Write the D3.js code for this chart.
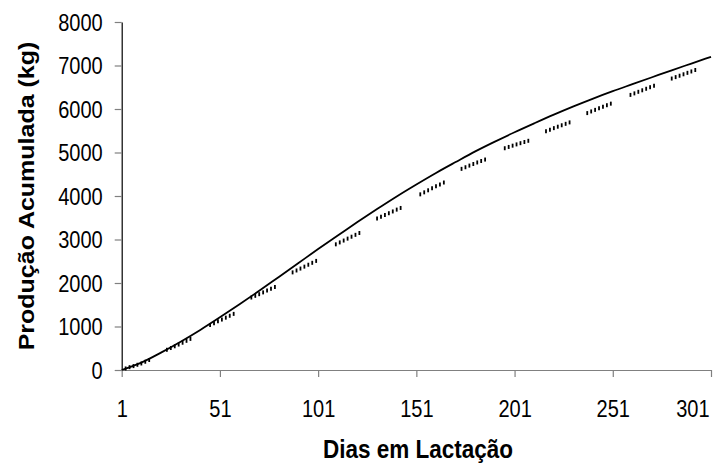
<!DOCTYPE html>
<html><head><meta charset="utf-8">
<script src="https://cdn.jsdelivr.net/npm/d3@7"></script>
<style>
html,body{margin:0;padding:0;background:#fff;}
svg{display:block;}
text{font-family:"Liberation Sans",Arial,sans-serif;fill:#000;}
</style></head><body>
<svg id="chart" width="722" height="464"></svg>
<script>
// Fitted cumulative production (solid line)
const fitDays = [1,11,21,31,41,51,61,71,81,91,101,111,121,131,141,151,161,171,181,191,201,211,221,231,241,251,261,271,281,291,301];
const fitKg   = [0,170,400,650,920,1210,1510,1820,2140,2460,2780,3090,3400,3700,3990,4265,4530,4780,5025,5250,5465,5670,5870,6060,6240,6410,6570,6730,6890,7045,7200];

// Observed cumulative production (dash markers)
const obsDays = [
  3,5,7,9,11,13,15,
  24,26,28,30,32,34,36,
  46,48,50,52,54,56,58,
  67,69,71,73,75,77,79,
  88,90,92,94,96,98,100,
  110,112,114,116,118,120,122,
  131,133,135,137,139,141,143,
  153,155,157,159,161,163,165,
  174,176,178,180,182,184,186,
  196,198,200,202,204,206,208,
  217,219,221,223,225,227,229,
  238,240,242,244,246,248,250,
  260,262,264,266,268,270,272,
  281,283,285,287,289,291,293];
const obsKg = [
  35,65,90,120,150,190,230,
  465,505,545,585,627,671,715,
  1035,1076,1118,1160,1203,1247,1290,
  1666,1705,1743,1784,1825,1865,1906,
  2244,2288,2332,2376,2420,2464,2508,
  2889,2933,2976,3020,3064,3107,3150,
  3480,3521,3563,3604,3645,3687,3725,
  4038,4084,4131,4177,4223,4267,4310,
  4624,4661,4699,4736,4771,4805,4838,
  5098,5128,5157,5186,5214,5241,5269,
  5490,5525,5560,5593,5626,5659,5692,
  5906,5944,5980,6016,6052,6087,6123,
  6324,6359,6395,6430,6465,6501,6536,
  6700,6733,6765,6798,6831,6863,6896];

const xTickValues = [1,51,101,151,201,251,301];
const yTickValues = [0,1000,2000,3000,4000,5000,6000,7000,8000];
const xTitle = "Dias em Lactação";
const yTitle = "Produção Acumulada (kg)";

const SQ = 0.87;      // horizontal squeeze of the reference lettering
const svg = d3.select("#chart");
const x = d3.scaleLinear().domain([1,301]).range([121.7,711]);
const y = d3.scaleLinear().domain([0,8000]).range([370,22]);

// Y axis
const gy = svg.append("g").attr("transform","translate(121.7,0)")
  .call(d3.axisLeft(y).tickValues(yTickValues).tickFormat(d3.format("d")).tickSize(7).tickSizeOuter(0).tickPadding(12));
gy.select(".domain").attr("stroke","#000").attr("stroke-width",1.2);
gy.selectAll(".tick line").attr("stroke","#808080").attr("stroke-width",1.2);
gy.selectAll(".tick text").attr("font-size",23).attr("font-family","Liberation Sans, Arial, sans-serif")
  .attr("x",-19/SQ).attr("dy","0.36em").attr("transform",`scale(${SQ},1)`);

// X axis
const gx = svg.append("g").attr("transform","translate(0,370)")
  .call(d3.axisBottom(x).tickValues(xTickValues).tickFormat(d3.format("d")).tickSize(7).tickSizeOuter(0).tickPadding(24));
gx.select(".domain").attr("stroke","#808080").attr("stroke-width",1.2);
gx.selectAll(".tick line").attr("stroke","#808080").attr("stroke-width",1.2);
gx.selectAll(".tick text").attr("font-size",23).attr("font-family","Liberation Sans, Arial, sans-serif")
  .attr("transform",`scale(${SQ},1)`);
// last label kept inside the picture, as in the reference
gx.selectAll(".tick text").filter(d=>d===301).attr("text-anchor","end").attr("x",-2/SQ);

// Titles
svg.append("text").attr("transform",`translate(418,458) scale(0.9,1)`).attr("text-anchor","middle")
  .attr("font-size",25).attr("font-weight","bold").text(xTitle);
svg.append("text").attr("transform",`translate(34,196) scale(0.9,1) rotate(-90)`).attr("text-anchor","middle")
  .attr("font-size",25).attr("font-weight","bold").text(yTitle);

// Solid line
const line = d3.line().x((d,i)=>x(fitDays[i])).y(d=>y(d)).curve(d3.curveMonotoneX);
svg.append("path").datum(fitKg).attr("d",line).attr("fill","none").attr("stroke","#000").attr("stroke-width",1.8);

// Observed markers (short vertical dashes)
svg.append("g").selectAll("line").data(obsKg).join("line")
  .attr("x1",(d,i)=>x(obsDays[i])).attr("x2",(d,i)=>x(obsDays[i]))
  .attr("y1",d=>y(d)-2).attr("y2",d=>y(d)+2)
  .attr("stroke","#000").attr("stroke-width",1.8);
</script>
</body></html>
